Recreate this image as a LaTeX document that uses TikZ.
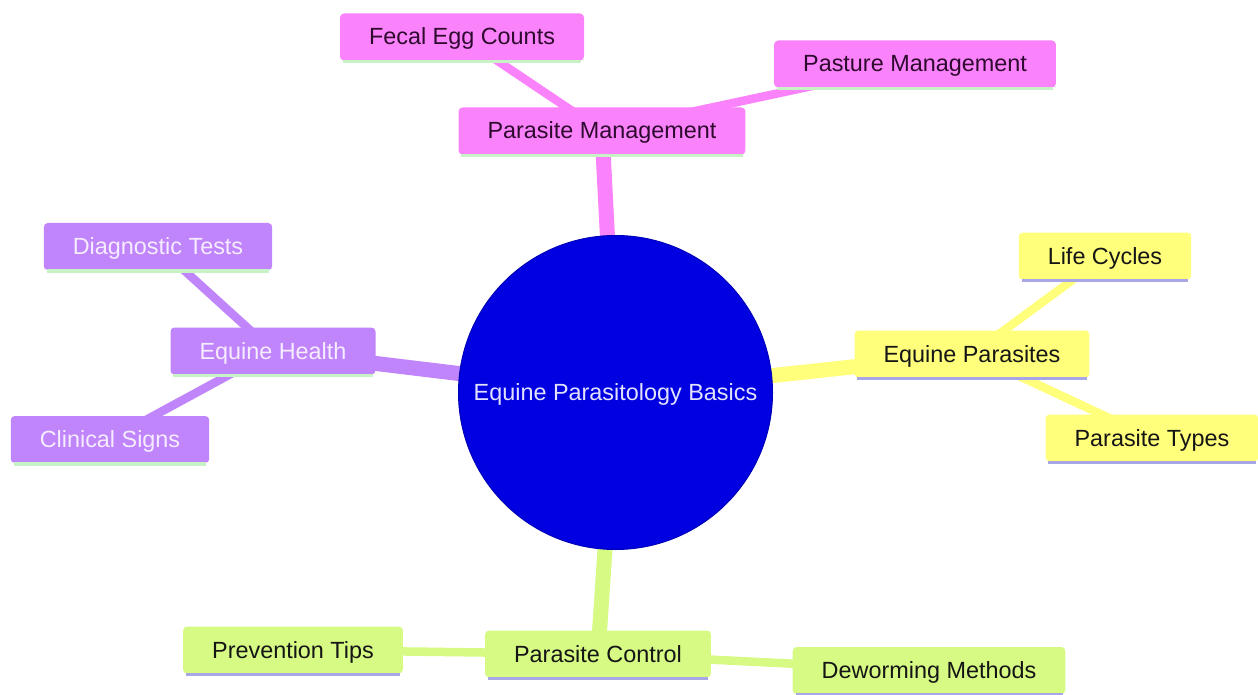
\documentclass[tikz,border=0pt]{standalone}
\usepackage{fontspec}
\setmainfont{Liberation Sans}
\usetikzlibrary{backgrounds}
\definecolor{cpink}{HTML}{FA82FA}
\definecolor{cpurple}{HTML}{C084FB}
\definecolor{cyellow}{HTML}{FFFF7C}
\definecolor{cgreen}{HTML}{D6FA84}
\definecolor{croot}{HTML}{0000E0}
\definecolor{crootline}{HTML}{0000B8}
\definecolor{ulgreen}{HTML}{C6F2C6}
\definecolor{ullav}{HTML}{A8A6E4}
\definecolor{tpink}{HTML}{2E0A2E}
\definecolor{tpurple}{HTML}{F6ECFF}
\definecolor{tdark}{HTML}{151515}
\definecolor{troot}{HTML}{E2E2FF}
\tikzset{
  box/.style={rectangle, rounded corners=4pt, minimum height=47pt, inner xsep=29pt, inner ysep=0pt,
    text height=21pt, text depth=5pt, font=\fontsize{23.4}{28}\selectfont},
  pinkbox/.style={box, fill=cpink, text=tpink},
  purplebox/.style={box, fill=cpurple, text=tpurple},
  yellowbox/.style={box, fill=cyellow, text=tdark},
  greenbox/.style={box, fill=cgreen, text=tdark},
  trunk/.style={line width=15pt},
  twig/.style={line width=8.5pt},
  ul/.style={line width=3.5pt},
}
\begin{document}
\begin{tikzpicture}[x=1pt,y=-1pt]
\useasboundingbox (0,0) rectangle (1258,695);
% root
\node[circle, fill=croot, draw=crootline, line width=1pt, minimum size=314pt, inner sep=0pt,
  text height=21pt, text depth=5pt,
  text=troot, font=\fontsize{23.4}{28}\selectfont] (root) at (615.5,392.5) {Equine Parasitology Basics};
% pink branch
\node[pinkbox] (pm) at (602,131) {Parasite Management};
\node[pinkbox] (fec) at (462,37) {Fecal Egg Counts};
\node[pinkbox] (past) at (915,64) {Pasture Management};
% purple branch
\node[purplebox] (eh) at (273,351) {Equine Health};
\node[purplebox] (dt) at (158,246.5) {Diagnostic Tests};
\node[purplebox] (cs) at (110,439.5) {Clinical Signs};
% yellow branch
\node[yellowbox] (ep) at (972,354) {Equine Parasites};
\node[yellowbox] (lc) at (1105,256) {Life Cycles};
\node[yellowbox] (pt) at (1152,438) {Parasite Types};
% green branch
\node[greenbox] (pc) at (598,654) {Parasite Control};
\node[greenbox] (pv) at (293,650) {Prevention Tips};
\node[greenbox] (dm) at (929,670.5) {Deworming Methods};
% underlines
\foreach \n in {pm,fec,past,eh,dt,cs}
  \draw[ul, ulgreen] ([xshift=3pt,yshift=-1pt]\n.south west) -- ([xshift=-3pt,yshift=-1pt]\n.south east);
\foreach \n in {ep,lc,pt,pc,pv,dm}
  \draw[ul, ullav] ([xshift=3pt,yshift=-1pt]\n.south west) -- ([xshift=-3pt,yshift=-1pt]\n.south east);
% connectors
\begin{scope}[on background layer]
\fill[white] (0,0) rectangle (1258,695);
\draw[trunk, cpink] (root.center) -- (pm.center);
\draw[twig, cpink] (pm.center) -- (fec.center);
\draw[twig, cpink] (pm.center) -- (past.center);
\draw[trunk, cpurple] (root.center) -- (eh.center);
\draw[twig, cpurple] (eh.center) -- (dt.center);
\draw[twig, cpurple] (eh.center) -- (cs.center);
\draw[trunk, cyellow] (root.center) -- (ep.center);
\draw[twig, cyellow] (ep.center) -- (lc.center);
\draw[twig, cyellow] (ep.center) -- (pt.center);
\draw[trunk, cgreen] (root.center) -- (pc.center);
\draw[twig, cgreen] (pc.center) -- (pv.center);
\draw[twig, cgreen] (pc.center) -- (dm.center);
\end{scope}
\end{tikzpicture}
\end{document}
